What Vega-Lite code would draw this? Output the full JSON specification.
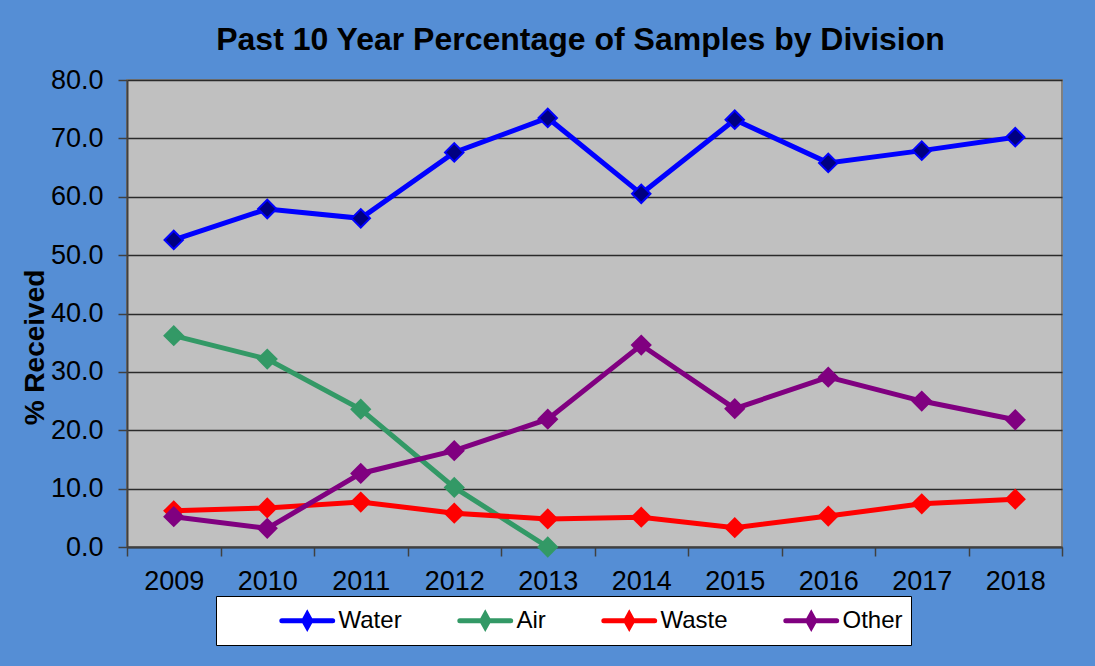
{
 "$schema": "https://vega.github.io/schema/vega-lite/v6.json",
 "width": 935, "height": 467,
 "autosize": {"type": "none"},
 "padding": {"left": 127, "top": 80, "right": 33, "bottom": 119},
 "background": "#558ED5",
 "title": {"text": "Past 10 Year Percentage of Samples by Division", "font": "Liberation Sans", "fontSize": 32, "fontWeight": "bold", "color": "#000000", "anchor": "middle", "frame": "group", "dx": -14, "baseline": "alphabetic", "offset": -16},
 "config": {"view": {"fill": "#C0C0C0", "stroke": "#808080", "strokeWidth": 2}, "font": "Liberation Sans"},
 "data": {"values": [
  {"year": "2009", "series": "Water", "value": 52.6},
  {"year": "2010", "series": "Water", "value": 57.9},
  {"year": "2011", "series": "Water", "value": 56.3},
  {"year": "2012", "series": "Water", "value": 67.6},
  {"year": "2013", "series": "Water", "value": 73.5},
  {"year": "2014", "series": "Water", "value": 60.5},
  {"year": "2015", "series": "Water", "value": 73.2},
  {"year": "2016", "series": "Water", "value": 65.8},
  {"year": "2017", "series": "Water", "value": 67.9},
  {"year": "2018", "series": "Water", "value": 70.2},
  {"year": "2009", "series": "Air", "value": 36.2},
  {"year": "2010", "series": "Air", "value": 32.2},
  {"year": "2011", "series": "Air", "value": 23.6},
  {"year": "2012", "series": "Air", "value": 10.2},
  {"year": "2013", "series": "Air", "value": 0.0},
  {"year": "2009", "series": "Waste", "value": 6.2},
  {"year": "2010", "series": "Waste", "value": 6.7},
  {"year": "2011", "series": "Waste", "value": 7.7},
  {"year": "2012", "series": "Waste", "value": 5.8},
  {"year": "2013", "series": "Waste", "value": 4.8},
  {"year": "2014", "series": "Waste", "value": 5.1},
  {"year": "2015", "series": "Waste", "value": 3.3},
  {"year": "2016", "series": "Waste", "value": 5.3},
  {"year": "2017", "series": "Waste", "value": 7.4},
  {"year": "2018", "series": "Waste", "value": 8.2},
  {"year": "2009", "series": "Other", "value": 5.2},
  {"year": "2010", "series": "Other", "value": 3.2},
  {"year": "2011", "series": "Other", "value": 12.6},
  {"year": "2012", "series": "Other", "value": 16.5},
  {"year": "2013", "series": "Other", "value": 21.9},
  {"year": "2014", "series": "Other", "value": 34.6},
  {"year": "2015", "series": "Other", "value": 23.7},
  {"year": "2016", "series": "Other", "value": 29.1},
  {"year": "2017", "series": "Other", "value": 25.0},
  {"year": "2018", "series": "Other", "value": 21.8}
 ]},
 "encoding": {
  "x": {"field": "year", "type": "ordinal", "scale": {"paddingInner": 0, "paddingOuter": 0},
   "axis": {"title": null, "labelAngle": 0, "tickBand": "extent", "labelFontSize": 27, "labelColor": "#000000", "labelPadding": 12, "tickSize": 9, "tickColor": "#404040", "tickWidth": 1.5, "domainColor": "#404040", "domainWidth": 2, "grid": false}},
  "y": {"field": "value", "type": "quantitative", "scale": {"domain": [0, 80]},
   "axis": {"title": "% Received", "values": [0, 10, 20, 30, 40, 50, 60, 70, 80], "format": ".1f", "labelFontSize": 27, "labelColor": "#000000", "labelPadding": 15, "tickSize": 9, "tickColor": "#404040", "tickWidth": 1.5, "domainColor": "#404040", "domainWidth": 2, "gridColor": "#2a2a2a", "gridWidth": 1.5, "titleFontSize": 28, "titleFontWeight": "bold", "titleColor": "#000000", "titleX": -92, "titleY": 267, "titleAngle": -90, "titleAlign": "center", "titleBaseline": "middle"}}
 },
 "layer": [
  {"mark": {"type": "line", "strokeWidth": 5},
   "encoding": {"color": {"field": "series", "type": "nominal",
    "scale": {"domain": ["Water", "Air", "Waste", "Other"], "range": ["#0000FF", "#339966", "#FF0000", "#800080"]},
    "legend": {"orient": "none", "legendX": 89, "legendY": 516, "direction": "horizontal", "title": null, "fillColor": "#FFFFFF", "strokeColor": "#000000", "padding": 8, "labelFontSize": 24, "labelColor": "#000000", "labelOffset": 1, "columnPadding": -2, "symbolType": "M-2.85,0L0.85,0M-1,-0.45L-0.75,0L-1,0.45L-1.25,0Z", "symbolSize": 756, "symbolStrokeWidth": 5, "symbolOffset": 80.5,
     "labelExpr": "datum.label == 'Other' ? 'Other\u2003\u2003\u2003' : datum.label",
     "encode": {"symbols": {"update": {"fill": {"scale": "fill", "field": "value"}, "strokeCap": {"value": "round"}}}}}}}},
  {"mark": {"type": "point", "shape": "diamond", "filled": true, "size": 340, "strokeWidth": 2, "opacity": 1},
   "encoding": {
    "fill": {"field": "series", "type": "nominal", "scale": {"domain": ["Water", "Air", "Waste", "Other"], "range": ["#000080", "#339966", "#FF0000", "#800080"]}, "legend": null},
    "stroke": {"field": "series", "type": "nominal", "scale": {"domain": ["Water", "Air", "Waste", "Other"], "range": ["#0000FF", "#339966", "#FF0000", "#800080"]}, "legend": null}}}
 ]
}
